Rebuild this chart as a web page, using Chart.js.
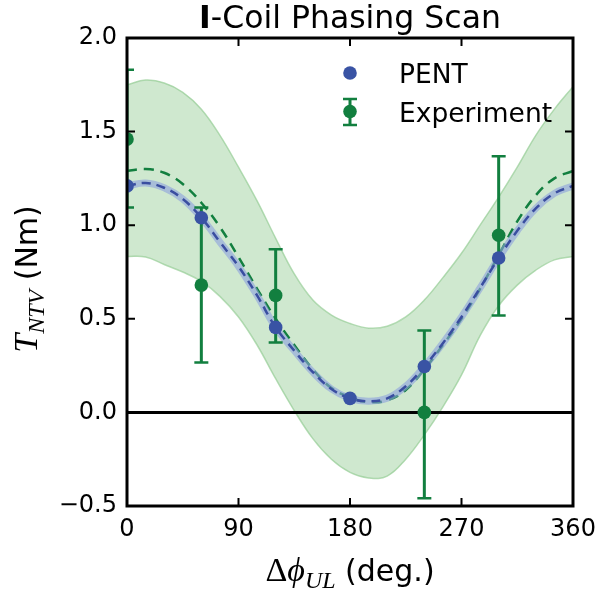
<!DOCTYPE html>
<html><head><meta charset="utf-8">
<script src="https://cdn.jsdelivr.net/npm/chart.js@4"></script>
<style>html,body{margin:0;padding:0;background:#fff}</style>
</head><body>
<canvas id="c" width="601" height="590" style="display:block"></canvas>
<script>
// ---- data ----
const fitPhase  = [0,15,30,45,60,75,90,105,120,135,150,165,180,195,210,225,240,255,270,285,300,315,330,345,360];
const upperBand = [1.75,1.775,1.76,1.71,1.62,1.48,1.31,1.13,0.93,0.74,0.60,0.52,0.475,0.45,0.46,0.51,0.60,0.72,0.85,1.00,1.15,1.31,1.48,1.62,1.74];
const lowerBand = [0.833,0.83,0.79,0.75,0.70,0.62,0.51,0.36,0.18,0.01,-0.14,-0.25,-0.32,-0.35,-0.34,-0.25,-0.12,0.03,0.20,0.41,0.57,0.68,0.76,0.815,0.833];
const expFit    = [1.29,1.30,1.28,1.22,1.12,0.99,0.83,0.66,0.50,0.36,0.23,0.13,0.08,0.055,0.065,0.12,0.23,0.36,0.50,0.66,0.84,1.02,1.16,1.25,1.29];
const pentFit   = [1.21,1.225,1.20,1.14,1.04,0.91,0.78,0.625,0.454,0.33,0.215,0.125,0.075,0.06,0.075,0.14,0.245,0.37,0.51,0.665,0.825,0.97,1.09,1.17,1.21];
const pentPhase  = [0,60,120,180,240,300];
const pentTorque = [1.21,1.04,0.454,0.075,0.245,0.825];
const expPhase   = [0,60,120,240,300];
const expTorque  = [1.46,0.68,0.625,0.0,0.946];
const expUpper   = [1.83,1.095,0.871,0.438,1.368];
const expLower   = [1.095,0.267,0.374,-0.459,0.518];
const xTicks = [0,90,180,270,360];
const yTicks = [-0.5,0.0,0.5,1.0,1.5,2.0];

const GREEN = '#127f3f', BLUE = '#3953a4';
const SANS = '"DejaVu Sans", sans-serif';
const SERIF = '"Liberation Serif", "DejaVu Serif", serif';

const pts = (xs, ys) => xs.map((x,i)=>({x, y: ys[i]}));

function drawRuns(ctx, runs, x, y, rotate){
  ctx.save();
  let w = 0;
  runs.forEach(r=>{ctx.font=r.font; r.w=ctx.measureText(r.t).width; w+=r.w;});
  ctx.translate(x,y);
  if (rotate) ctx.rotate(-Math.PI/2);
  let cx = -w/2;
  ctx.fillStyle = '#000';
  ctx.textBaseline = 'alphabetic';
  ctx.textAlign = 'left';
  runs.forEach(r=>{ctx.font=r.font; ctx.fillText(r.t, cx, r.dy||0); cx+=r.w;});
  ctx.restore();
}

const IDX = {upper:0, lower:1, expFit:2, pentBand:3, pentDash:4, exp:5, pent:6};

const decor = {
  id:'decor',
  beforeDatasetDraw(chart, args){
    if (args.index !== IDX.exp) return;
    const {ctx, chartArea:a, scales:{x,y}} = chart;
    ctx.save();
    ctx.beginPath(); ctx.rect(a.left, a.top, a.right-a.left, a.bottom-a.top); ctx.clip();
    ctx.strokeStyle = GREEN;
    expPhase.forEach((p,i)=>{
      const px = x.getPixelForValue(p);
      const yt = y.getPixelForValue(expUpper[i]);
      const yb = y.getPixelForValue(expLower[i]);
      ctx.lineWidth = 3;
      ctx.beginPath(); ctx.moveTo(px, yt); ctx.lineTo(px, yb); ctx.stroke();
      ctx.lineWidth = 2.5;
      ctx.beginPath();
      ctx.moveTo(px-7, yt); ctx.lineTo(px+7, yt);
      ctx.moveTo(px-7, yb); ctx.lineTo(px+7, yb);
      ctx.stroke();
    });
    ctx.restore();
  },
  afterDatasetDraw(chart, args){
    if (args.index !== IDX.lower) return;
    const {ctx, chartArea:a, scales:{y}} = chart;
    const y0 = y.getPixelForValue(0);
    ctx.save();
    ctx.strokeStyle = '#000'; ctx.lineWidth = 3;
    ctx.beginPath(); ctx.moveTo(a.left, y0); ctx.lineTo(a.right, y0); ctx.stroke();
    ctx.restore();
  },
  afterDraw(chart){
    const {ctx, chartArea:a, scales:{x,y}} = chart;
    ctx.save();
    ctx.strokeStyle = '#000'; ctx.lineWidth = 2;
    ctx.beginPath();
    xTicks.forEach(v=>{
      const px = x.getPixelForValue(v);
      ctx.moveTo(px, a.bottom); ctx.lineTo(px, a.bottom-8);
      ctx.moveTo(px, a.top); ctx.lineTo(px, a.top+8);
    });
    yTicks.forEach(v=>{
      const py = y.getPixelForValue(v);
      ctx.moveTo(a.left, py); ctx.lineTo(a.left+8, py);
      ctx.moveTo(a.right, py); ctx.lineTo(a.right-8, py);
    });
    ctx.stroke();
    ctx.lineWidth = 3;
    ctx.strokeRect(a.left, a.top, a.right-a.left, a.bottom-a.top);

    // legend
    const lx = 350;
    ctx.fillStyle = BLUE;
    ctx.beginPath(); ctx.arc(lx, 73, 6.8, 0, Math.PI*2); ctx.fill();
    ctx.strokeStyle = GREEN; ctx.fillStyle = GREEN;
    ctx.lineWidth = 3;
    ctx.beginPath(); ctx.moveTo(lx, 99); ctx.lineTo(lx, 125); ctx.stroke();
    ctx.lineWidth = 2.5;
    ctx.beginPath(); ctx.moveTo(lx-7, 99); ctx.lineTo(lx+7, 99); ctx.moveTo(lx-7,125); ctx.lineTo(lx+7,125); ctx.stroke();
    ctx.beginPath(); ctx.arc(lx, 111.5, 6.8, 0, Math.PI*2); ctx.fill();
    ctx.fillStyle = '#000';
    ctx.font = '26.5px ' + SANS;
    ctx.textAlign = 'left'; ctx.textBaseline = 'alphabetic';
    ctx.fillText('PENT', 399, 82.5);
    ctx.fillText('Experiment', 399, 122);
    ctx.restore();

    const cx = (a.left + a.right)/2;
    drawRuns(ctx, [
      {t:'I', font:'bold 31.5px '+SANS},
      {t:'-Coil Phasing Scan', font:'31.5px '+SANS}
    ], cx, 28, false);
    drawRuns(ctx, [
      {t:'\u0394', font:'34px '+SERIF},
      {t:'\u03D5', font:'italic 34px '+SERIF},
      {t:'UL', font:'italic 24px '+SERIF, dy:7},
      {t:' (deg.)', font:'30px '+SANS}
    ], cx, 581, false);
    drawRuns(ctx, [
      {t:'T', font:'italic 34px '+SERIF},
      {t:'NTV', font:'italic 24px '+SERIF, dy:7},
      {t:' (Nm)', font:'30px '+SANS}
    ], 37, 279, true);
  }
};

new Chart(document.getElementById('c'), {
  type:'line',
  data:{ datasets:[
    {label:'upper', data:pts(fitPhase, upperBand), fill:'+1', order:6,
     backgroundColor:'rgba(160,210,160,0.5)', borderColor:'rgba(150,205,150,0.7)', borderWidth:1.5, pointRadius:0, tension:0.4},
    {label:'lower', data:pts(fitPhase, lowerBand), fill:false, order:5,
     borderColor:'rgba(150,205,150,0.7)', borderWidth:1.5, pointRadius:0, tension:0.4},
    {label:'expFit', data:pts(fitPhase, expFit), fill:false, order:4,
     borderColor:GREEN, borderWidth:2.5, borderDash:[10,7], pointRadius:0, tension:0.4},
    {label:'pentBand', data:pts(fitPhase, pentFit), fill:false, order:3,
     borderColor:'rgba(140,160,222,0.6)', borderWidth:7, pointRadius:0, tension:0.4},
    {label:'pentDash', data:pts(fitPhase, pentFit), fill:false, order:2,
     borderColor:'#3a4ea0', borderWidth:2.5, borderDash:[9,6], pointRadius:0, tension:0.4},
    {label:'Experiment', data:pts(expPhase, expTorque), showLine:false, order:1,
     pointRadius:6.8, pointBackgroundColor:GREEN, pointBorderWidth:0, pointHoverRadius:6.8},
    {label:'PENT', data:pts(pentPhase, pentTorque), showLine:false, order:0,
     pointRadius:6.8, pointBackgroundColor:BLUE, pointBorderWidth:0, pointHoverRadius:6.8}
  ]},
  options:{
    responsive:false, animation:false, devicePixelRatio:1,
    layout:{padding:{left:0, right:28, top:38, bottom:0}},
    plugins:{legend:{display:false}, tooltip:{enabled:false}, title:{display:false}},
    events:[],
    scales:{
      x:{type:'linear', min:0, max:360,
         afterBuildTicks:s=>{s.ticks = xTicks.map(v=>({value:v}));},
         afterFit:s=>{s.height = 84; s.paddingLeft = 0; s.paddingRight = 0;},
         grid:{display:false, drawTicks:false}, border:{display:false},
         ticks:{font:{family:SANS, size:24}, color:'#000', padding:9, maxRotation:0, autoSkip:false,
                callback:v=>String(v)}},
      y:{type:'linear', min:-0.5, max:2.0,
         afterBuildTicks:s=>{s.ticks = yTicks.map(v=>({value:v}));},
         afterFit:s=>{s.width = 127; s.paddingTop = 0; s.paddingBottom = 0;},
         grid:{display:false, drawTicks:false}, border:{display:false},
         ticks:{font:{family:SANS, size:24}, color:'#000', padding:10, autoSkip:false,
                callback:v=>(v<0?'\u2212':'')+Math.abs(v).toFixed(1)}}
    }
  },
  plugins:[decor]
});
</script>
</body></html>
